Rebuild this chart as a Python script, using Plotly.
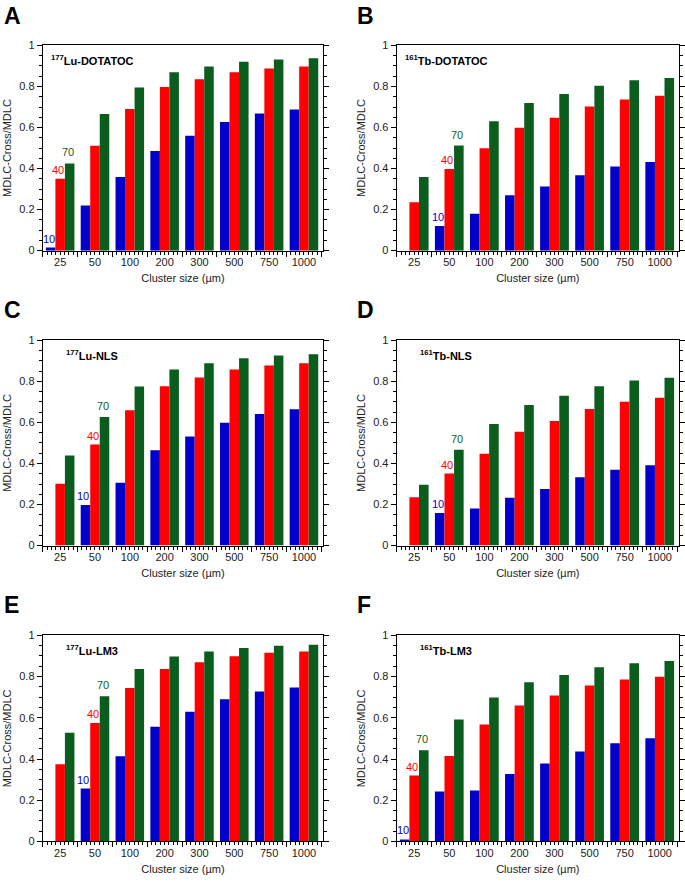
import plotly.graph_objects as go

# ---------------- data ----------------
sizes = ["25", "50", "100", "200", "300", "500", "750", "1000"]
series_names = ["10", "40", "70"]
panel_letters = ["A", "B", "C", "D", "E", "F"]
panel_agents = ["<sup>177</sup>Lu-DOTATOC", "<sup>161</sup>Tb-DOTATOC",
                "<sup>177</sup>Lu-NLS", "<sup>161</sup>Tb-NLS",
                "<sup>177</sup>Lu-LM3", "<sup>161</sup>Tb-LM3"]
label_group = ["25", "50", "50", "50", "50", "25"]

lu_dotatoc_10 = [0.015, 0.22, 0.359, 0.485, 0.56, 0.627, 0.668, 0.688]
lu_dotatoc_40 = [0.35, 0.511, 0.69, 0.797, 0.835, 0.870, 0.888, 0.897]
lu_dotatoc_70 = [0.425, 0.666, 0.795, 0.870, 0.898, 0.921, 0.932, 0.938]

tb_dotatoc_10 = [0.0, 0.12, 0.18, 0.27, 0.312, 0.368, 0.41, 0.432]
tb_dotatoc_40 = [0.236, 0.398, 0.499, 0.599, 0.648, 0.703, 0.737, 0.755]
tb_dotatoc_70 = [0.359, 0.512, 0.631, 0.720, 0.763, 0.804, 0.830, 0.842]

lu_nls_10 = [0.0, 0.198, 0.306, 0.465, 0.532, 0.599, 0.641, 0.664]
lu_nls_40 = [0.301, 0.492, 0.659, 0.776, 0.819, 0.858, 0.878, 0.888]
lu_nls_70 = [0.439, 0.626, 0.775, 0.858, 0.888, 0.913, 0.926, 0.933]

tb_nls_10 = [0.0, 0.159, 0.181, 0.233, 0.276, 0.333, 0.369, 0.391]
tb_nls_40 = [0.235, 0.351, 0.447, 0.555, 0.607, 0.666, 0.701, 0.721]
tb_nls_70 = [0.296, 0.467, 0.592, 0.685, 0.730, 0.777, 0.804, 0.818]

lu_lm3_10 = [0.0, 0.257, 0.413, 0.557, 0.629, 0.690, 0.728, 0.747]
lu_lm3_40 = [0.375, 0.575, 0.744, 0.837, 0.869, 0.899, 0.915, 0.922]
lu_lm3_70 = [0.527, 0.705, 0.837, 0.897, 0.921, 0.939, 0.949, 0.954]

tb_lm3_10 = [0.01, 0.242, 0.247, 0.327, 0.378, 0.437, 0.477, 0.501]
tb_lm3_40 = [0.320, 0.415, 0.568, 0.660, 0.708, 0.757, 0.786, 0.799]
tb_lm3_70 = [0.442, 0.592, 0.698, 0.773, 0.808, 0.845, 0.865, 0.876]

panel_series = [
    [lu_dotatoc_10, lu_dotatoc_40, lu_dotatoc_70],
    [tb_dotatoc_10, tb_dotatoc_40, tb_dotatoc_70],
    [lu_nls_10, lu_nls_40, lu_nls_70],
    [tb_nls_10, tb_nls_40, tb_nls_70],
    [lu_lm3_10, lu_lm3_40, lu_lm3_70],
    [tb_lm3_10, tb_lm3_40, tb_lm3_70],
]

# ---------------- styling / layout ----------------
W, H = 685, 883
FONT = "Liberation Sans, Arial, sans-serif"
colors = ["#0000CC", "#FF0000", "#0B5D1E"]
BARGAP = 0.18
col_x = [(43 / W, 325 / W), (399 / W, 683 / W)]
row_y = [(1 - 248 / H, 1 - 40 / H), (1 - 547 / H, 1 - 339 / H), (1 - 847 / H, 1 - 638 / H)]
letter_x = [2, 357]
letter_top = [0, 298, 597]
agent_indent = [6, 6, 21, 21, 21, 21]
xrange_ = [-0.5, 7.55]
idx = list(range(len(sizes)))

fig = go.Figure()
layout = dict(
    width=W, height=H, margin=dict(l=0, r=0, t=0, b=0),
    paper_bgcolor="white", plot_bgcolor="white",
    barmode="group", bargap=BARGAP, bargroupgap=0,
    showlegend=False, font=dict(family=FONT, size=11, color="#222"),
)
annotations = []

for k in range(6):
    r, c = k // 2, k % 2
    xa = "x" if k == 0 else f"x{k + 1}"
    ya = "y" if k == 0 else f"y{k + 1}"
    xt = f"x{k + 7}"
    for s in range(3):
        fig.add_trace(go.Bar(x=idx, y=panel_series[k][s], xaxis=xa, yaxis=ya,
                             marker=dict(color=colors[s], line=dict(width=0)),
                             name=series_names[s], hoverinfo="skip"))
    # empty trace to register tick-overlay axis
    fig.add_trace(go.Scatter(x=[None], y=[None], xaxis=xt, yaxis=ya,
                             showlegend=False, hoverinfo="skip"))

    layout[f"xaxis{k + 1}"] = dict(
        domain=list(col_x[c]), anchor=ya, range=xrange_,
        tickmode="array", tickvals=idx, ticktext=sizes, ticks="",
        ticklabelstandoff=1,
        showline=True, mirror=True, linecolor="black", linewidth=1,
        showgrid=False, zeroline=False,
        tickfont=dict(size=11, color="#222"),
        title=dict(text="Cluster size (µm)", font=dict(size=11, color="#222"), standoff=7),
    )
    layout[f"xaxis{k + 7}"] = dict(
        overlaying=xa, anchor=ya, side="bottom", range=xrange_,
        tickmode="array", tickvals=[i - 0.5 for i in range(len(sizes) + 1)],
        showticklabels=False, ticks="outside", ticklen=5, tickcolor="black", tickwidth=1,
        minor=dict(tickmode="linear", tick0=-0.5, dtick=0.125, ticks="outside",
                   ticklen=3, tickcolor="black", tickwidth=1),
        showline=False, showgrid=False, zeroline=False,
    )
    layout[f"yaxis{k + 1}"] = dict(
        domain=list(row_y[r]), anchor=xa, range=[0, 1],
        tickmode="linear", tick0=0, dtick=0.2, ticks="outside", ticklen=5,
        tickcolor="black", tickwidth=1,
        minor=dict(dtick=0.05, ticks="outside", ticklen=3, tickcolor="black", tickwidth=1),
        showline=True, mirror="ticks", linecolor="black", linewidth=1,
        showgrid=False, zeroline=False,
        tickfont=dict(size=11, color="#222"),
        title=dict(text="MDLC-Cross/MDLC", font=dict(size=11, color="#222"), standoff=5),
    )

    # panel letter
    annotations.append(dict(
        text=f"<b>{panel_letters[k]}</b>", xref="paper", yref="paper",
        x=letter_x[c] / W, y=1 - letter_top[r] / H, yshift=5, xanchor="left", yanchor="top",
        showarrow=False, font=dict(size=23, family=FONT, color="black")))
    # agent label
    annotations.append(dict(
        text=f"<b>{panel_agents[k]}</b>", xref=f"{xa} domain", yref=f"{ya} domain",
        x=0, y=1, xshift=agent_indent[k], yshift=-15, xanchor="left", yanchor="middle",
        showarrow=False, font=dict(size=11, family=FONT, color="black")))
    # series labels
    g = sizes.index(label_group[k])
    bw = (1 - BARGAP) / 3
    for s in range(3):
        annotations.append(dict(
            text=series_names[s], xref=xa, yref=ya,
            x=g + (s - 1) * bw, y=panel_series[k][s][g],
            xanchor="center", yanchor="bottom", xshift=-2, yshift=1 if s < 2 else 3,
            showarrow=False, font=dict(size=11, family=FONT, color=colors[s])))

layout["annotations"] = annotations
fig.update_layout(**layout)
fig.write_html("out.html", config={"displayModeBar": False},
               post_script="document.body.style.margin='0';document.body.style.overflow='hidden';")
